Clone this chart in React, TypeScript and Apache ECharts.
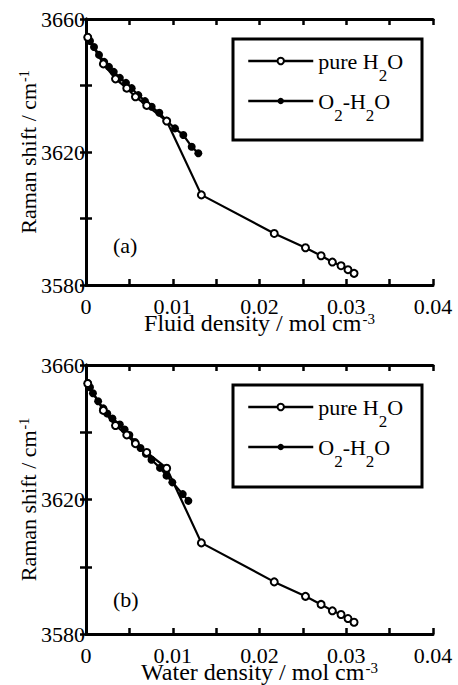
import React, { useEffect, useRef } from "react";
import * as echarts from "echarts";

// ---- data ----
const pureX = [0.0002, 0.002, 0.0034, 0.0047, 0.0057, 0.007, 0.0093, 0.0133, 0.0217, 0.0253, 0.0271, 0.0284, 0.0294, 0.0302, 0.0309];
const pureY = [3654.5, 3646.5, 3642.0, 3639.2, 3636.6, 3634.0, 3629.3, 3607.1, 3595.5, 3591.2, 3588.8, 3586.9, 3585.8, 3584.6, 3583.5];

const o2FluidX = [0.0002, 0.00046, 0.00092, 0.0015, 0.0021, 0.00265, 0.0032, 0.0039, 0.00461, 0.00527, 0.00603, 0.0068, 0.00757, 0.00845, 0.0093, 0.01026, 0.01122, 0.01218, 0.01295];
const o2WaterX = [0.0002, 0.00046, 0.0008, 0.0014, 0.002, 0.00245, 0.00305, 0.0039, 0.00445, 0.005, 0.00564, 0.00628, 0.0069, 0.00755, 0.00853, 0.00928, 0.00995, 0.01115, 0.0118];
const o2Y = [3654.6, 3653.4, 3651.6, 3649.2, 3647.1, 3645.6, 3644.1, 3642.3, 3640.8, 3639.2, 3637.1, 3635.3, 3633.6, 3631.8, 3629.4, 3627.1, 3625.1, 3621.6, 3619.6];

const xTickLabels = ["0", "0.01", "0.02", "0.03", "0.04"];
const yTickLabels = [3580, 3620, 3660];
const seriesNames = ["pure H2O", "O2-H2O"];
const panelLabels = ["(a)", "(b)"];
const xTitles = ["{n|Fluid density / mol cm}{sup|-3}", "{n|Water density / mol cm}{sup|-3}"];
const yTitle = "{n|Raman shift / cm}{sup|-1}";

const FONT = "Liberation Serif";

const pairs = (xs: number[], ys: number[]) => xs.map((x, i) => [x, ys[i]]);

const xRich = {
  n: { fontSize: 24, fontFamily: FONT, color: "#000", lineHeight: 16 },
  sup: { fontSize: 15, fontFamily: FONT, color: "#000", lineHeight: 10, padding: [0, 0, 8, 1] },
};
const yRich = {
  n: { fontSize: 22, fontFamily: FONT, color: "#000", lineHeight: 16 },
  sup: { fontSize: 14, fontFamily: FONT, color: "#000", lineHeight: 10, padding: [0, 0, 8, 1] },
};
const legendRich = {
  n: { fontSize: 22, fontFamily: FONT, color: "#000", verticalAlign: "top", lineHeight: 22 },
  s: { fontSize: 17, fontFamily: FONT, color: "#000", verticalAlign: "top", lineHeight: 17, padding: [17, 0, 0, 0] },
};

const xLabelFmt = (v: number) => {
  const s = String(Math.round(v * 1000) / 1000);
  return xTickLabels.includes(s) ? s : "";
};
const yLabelFmt = (v: number) => (yTickLabels.includes(Math.round(v)) ? String(Math.round(v)) : "");

const axisLine = { show: true, lineStyle: { color: "#000", width: 3 } };
const axisTick = { show: true, inside: true, length: 6, lineStyle: { color: "#000", width: 2.5 } };

function xAxes(gi: number) {
  const base = {
    type: "value",
    gridIndex: gi,
    min: 0,
    max: 0.04,
    interval: 0.005,
    axisLine,
    axisTick,
    splitLine: { show: false },
  };
  return [
    {
      ...base,
      position: "bottom",
      axisLabel: { formatter: xLabelFmt, color: "#000", fontSize: 22, lineHeight: 14, fontFamily: FONT, margin: 14 },
      name: xTitles[gi],
      nameLocation: "middle",
      nameGap: 30,
      nameMoveOverlap: false,
      nameTextStyle: { fontFamily: FONT, rich: xRich },
    },
    { ...base, position: "top", axisLabel: { show: false } },
  ];
}

function yAxes(gi: number) {
  const base = {
    type: "value",
    gridIndex: gi,
    min: 3580,
    max: 3660,
    interval: 20,
    axisLine,
    axisTick,
    splitLine: { show: false },
  };
  return [
    {
      ...base,
      position: "left",
      axisLabel: { formatter: yLabelFmt, color: "#000", fontSize: 22, fontFamily: FONT, margin: 1 },
      name: yTitle,
      nameLocation: "middle",
      nameGap: 50,
      nameMoveOverlap: false,
      nameTextStyle: { fontFamily: FONT, rich: yRich },
    },
    { ...base, position: "right", axisLabel: { show: false } },
  ];
}

function legendFmt(name: string) {
  if (name === seriesNames[0]) return "{n|pure H}{s|2}{n|O}";
  return "{n|O}{s|2}{n|-H}{s|2}{n|O}";
}

function legend(top: number) {
  return {
    data: seriesNames,
    orient: "vertical",
    left: 247,
    top,
    padding: 0,
    itemGap: 6,
    itemWidth: 65,
    itemHeight: 8,
    itemStyle: { color: "#000", borderColor: "#000" },
    lineStyle: { color: "#000", width: 2.5 },
    formatter: legendFmt,
    textStyle: { fontFamily: FONT, rich: legendRich },
    selectedMode: false,
  };
}

export default function App() {
  const ref = useRef<HTMLDivElement>(null);
  useEffect(() => {
    if (!ref.current) return;
    const chart = echarts.init(ref.current, undefined, { renderer: "svg" });
    const lineSeries = (name: string, data: number[][], gi: number, filled: boolean) => ({
      type: "line",
      name,
      data,
      xAxisIndex: gi * 2,
      yAxisIndex: gi * 2,
      symbol: filled ? "circle" : "emptyCircle",
      symbolSize: filled ? 8 : 7,
      showSymbol: true,
      lineStyle: { color: "#000", width: 2.2 },
      itemStyle: { color: "#000", borderColor: "#000", borderWidth: filled ? 0 : 1 },
      emphasis: { disabled: true },
    });
    chart.setOption({
      animation: false,
      backgroundColor: "#fff",
      grid: [
        { left: 86, top: 19, width: 347, height: 266, containLabel: false, outerBoundsMode: "none" },
        { left: 86, top: 365, width: 347, height: 269, containLabel: false, outerBoundsMode: "none" },
      ],
      xAxis: [...xAxes(0), ...xAxes(1)],
      yAxis: [...yAxes(0), ...yAxes(1)],
      legend: [legend(50), legend(396)],
      series: [
        lineSeries(seriesNames[1], pairs(o2FluidX, o2Y), 0, true),
        lineSeries(seriesNames[0], pairs(pureX, pureY), 0, false),
        lineSeries(seriesNames[1], pairs(o2WaterX, o2Y), 1, true),
        lineSeries(seriesNames[0], pairs(pureX, pureY), 1, false),
      ],
      graphic: [
        { type: "rect", shape: { x: 233, y: 39, width: 189, height: 101 }, style: { fill: "none", stroke: "#000", lineWidth: 3 } },
        { type: "rect", shape: { x: 233, y: 385, width: 189, height: 102 }, style: { fill: "none", stroke: "#000", lineWidth: 3 } },
        { type: "text", x: 113, y: 234, style: { text: panelLabels[0], font: "22px " + FONT, fill: "#000" } },
        { type: "text", x: 113, y: 588, style: { text: panelLabels[1], font: "22px " + FONT, fill: "#000" } },
      ],
    });
    return () => chart.dispose();
  }, []);
  return (
    <div
      ref={ref}
      style={{ position: "fixed", left: 0, top: 0, width: 458, height: 685, background: "#fff" }}
    />
  );
}
